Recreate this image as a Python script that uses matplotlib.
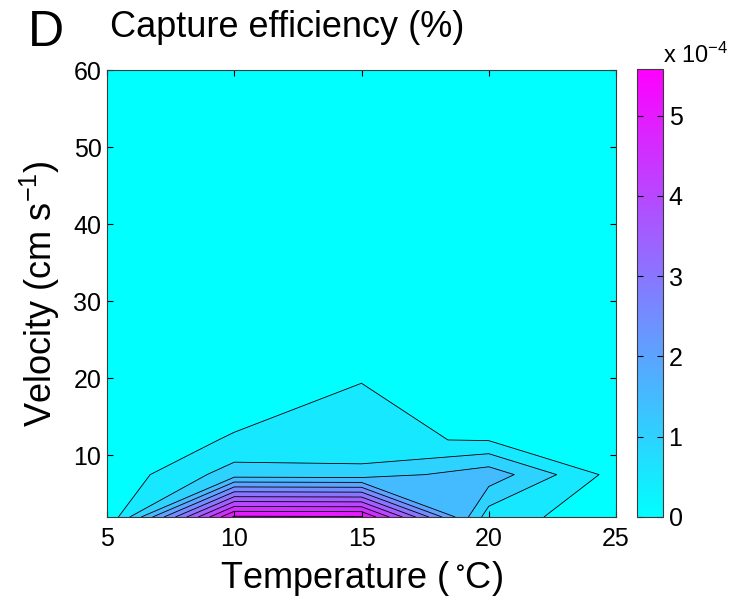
import numpy as np
import matplotlib
matplotlib.use("Agg")
import matplotlib.pyplot as plt
from matplotlib.colors import Normalize
from matplotlib.cm import ScalarMappable

plt.rcParams['font.family'] = ['Liberation Sans', 'DejaVu Sans']
plt.rcParams['mathtext.fontset'] = 'custom'
plt.rcParams['mathtext.rm'] = 'Liberation Sans'
plt.rcParams['mathtext.default'] = 'regular'

# measurement grid
temperature = [5, 10, 15, 20, 25]              # deg C
velocity = [2, 7.5, 12, 20, 30, 40, 50, 60]    # cm s-1

# capture efficiency (%), x 1e-4, one list per velocity
eff_v2 = [0.0, 5.58, 5.55, 0.73, 0.2]
eff_v7 = [0.12, 1.24, 1.2, 1.8, 0.3]
eff_v12 = [0.0, 0.571, 0.557, 0.473, 0.0]
eff_v20 = [0.0, 0.0, 0.495, 0.0, 0.0]
eff_v30 = [0.0, 0.0, 0.0, 0.0, 0.0]
eff_v40 = [0.0, 0.0, 0.0, 0.0, 0.0]
eff_v50 = [0.0, 0.0, 0.0, 0.0, 0.0]
eff_v60 = [0.0, 0.0, 0.0, 0.0, 0.0]

cbar_ticks = [0, 1, 2, 3, 4, 5]

Z = np.array([eff_v2, eff_v7, eff_v12, eff_v20,
              eff_v30, eff_v40, eff_v50, eff_v60]) * 1e-4
zmax = Z.max()

levels = list(np.arange(0, 5.51, 0.5) * 1e-4) + [zmax]
cmap = plt.get_cmap('cool')
norm = Normalize(0, zmax)
# matlab style: each band takes the colour of its lower level
fill_colors = [cmap(norm(l)) for l in levels[:-1]]

fig = plt.figure(figsize=(7.35, 6.02), dpi=100)
ax = fig.add_axes([107/735, 85/602, 509/735, 447/602])

ax.contourf(temperature, velocity, Z, levels=levels, colors=fill_colors)
ax.contour(temperature, velocity, Z, levels=levels[1:-1], colors='k', linewidths=0.6)

frame = '#3a3a3a'
ax.set_xlim(5, 25)
ax.set_ylim(2, 60)
ax.set_xticks([5, 10, 15, 20, 25])
ax.set_yticks([10, 20, 30, 40, 50, 60])
ax.tick_params(direction='in', length=4, width=0.8, top=True, right=True,
               labelsize=18, colors='k', pad=4)
ax.tick_params(axis='x', pad=7)
for s in ax.spines.values():
    s.set_color(frame)
    s.set_linewidth(0.8)

ax.set_xlabel('Temperature ($\\,^{\\circ}$C)', fontsize=26)
ax.set_ylabel('Velocity (cm s$^{-1}$)', fontsize=26)
ax.xaxis.set_label_coords(0.5, -0.095)
ax.yaxis.set_label_coords(-0.088, 0.5)

fig.text(110/735, 1 - 37/602, 'Capture efficiency (%)', fontsize=26)
fig.text(28/735, 1 - 46/602, 'D', fontsize=36)

# colorbar
cax = fig.add_axes([637/735, 85/602, 26/735, 448/602])
cb = fig.colorbar(ScalarMappable(norm=norm, cmap=cmap), cax=cax)
cb.set_ticks([t * 1e-4 for t in cbar_ticks])
cb.set_ticklabels([str(t) for t in cbar_ticks])
cax.tick_params(direction='in', length=4, width=0.8, left=True, right=True,
                labelsize=18, pad=4)
cb.outline.set_edgecolor(frame)
cb.outline.set_linewidth(0.8)
fig.text(663/735, 1 - 63/602, 'x 10$^{-4}$', fontsize=17)

fig.savefig('out.png', dpi=100)
